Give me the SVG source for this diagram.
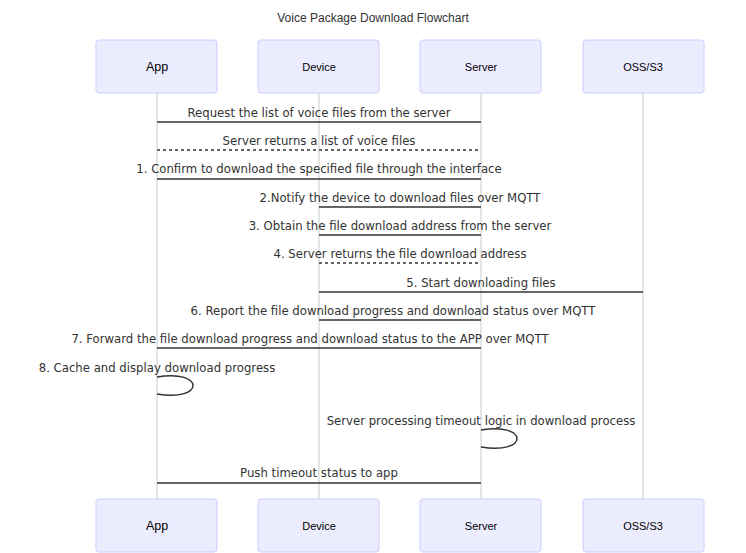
<svg xmlns="http://www.w3.org/2000/svg" width="746" height="553" viewBox="0 0 746 553">
<style>
.actor{fill:#ececff;stroke:#ccccff;stroke-width:1}
.alab{font-family:"Liberation Sans",Arial,sans-serif;font-size:11px;fill:#000;text-anchor:middle;dominant-baseline:central}
.life{stroke:#cccccc;stroke-width:1}
.msg{stroke:#333;stroke-width:1.5;fill:none}
.dash{stroke-dasharray:3,3}
.mt{font-family:"DejaVu Sans",Verdana,sans-serif;font-size:11.7px;fill:#333;text-anchor:middle;dominant-baseline:central}
.title{font-family:"Liberation Sans",Arial,sans-serif;font-size:12px;fill:#333;text-anchor:middle;dominant-baseline:central}
</style>
<rect width="746" height="553" fill="#fff"/>
<text class="title" x="373" y="18">Voice Package Download Flowchart</text>
<g id="lifelines">
<line class="life" x1="157" y1="93" x2="157" y2="499"/>
<line class="life" x1="319" y1="93" x2="319" y2="499"/>
<line class="life" x1="481" y1="93" x2="481" y2="499"/>
<line class="life" x1="643" y1="93" x2="643" y2="499"/>
</g>
<g id="app"><rect class="actor" x="96" y="40" width="121" height="53" rx="3"/><text class="alab" x="157" y="67" style="font-size:12.5px">App</text></g>
<g id="device"><rect class="actor" x="258" y="40" width="121" height="53" rx="3"/><text class="alab" x="319" y="67">Device</text></g>
<g id="server"><rect class="actor" x="420" y="40" width="121" height="53" rx="3"/><text class="alab" x="481" y="67">Server</text></g>
<g id="oss"><rect class="actor" x="583" y="40" width="121" height="53" rx="3"/><text class="alab" x="643" y="67">OSS/S3</text></g>
<g id="app-bottom"><rect class="actor" x="96" y="499" width="121" height="53" rx="3"/><text class="alab" x="157" y="526" style="font-size:12.5px">App</text></g>
<g id="device-bottom"><rect class="actor" x="258" y="499" width="121" height="53" rx="3"/><text class="alab" x="319" y="526">Device</text></g>
<g id="server-bottom"><rect class="actor" x="420" y="499" width="121" height="53" rx="3"/><text class="alab" x="481" y="526">Server</text></g>
<g id="oss-bottom"><rect class="actor" x="583" y="499" width="121" height="53" rx="3"/><text class="alab" x="643" y="526">OSS/S3</text></g>
<g id="connectors">
<line class="msg" x1="157" y1="122" x2="481" y2="122"/>
<line class="msg dash" x1="157" y1="150" x2="481" y2="150"/>
<line class="msg" x1="157" y1="179" x2="481" y2="179"/>
<line class="msg" x1="319" y1="207" x2="481" y2="207"/>
<line class="msg" x1="319" y1="235" x2="481" y2="235"/>
<line class="msg dash" x1="319" y1="263" x2="481" y2="263"/>
<line class="msg" x1="319" y1="292" x2="643" y2="292"/>
<line class="msg" x1="319" y1="320" x2="481" y2="320"/>
<line class="msg" x1="157" y1="348" x2="481" y2="348"/>
<path class="msg" d="M157,377 C205,369 205,402 157,394"/>
<path class="msg" d="M481,430 C529,422 529,455 481,447"/>
<line class="msg" x1="157" y1="483" x2="481" y2="483"/>
</g>
<g id="labels">
<text class="mt" x="319" y="113">Request the list of voice files from the server</text>
<text class="mt" x="319" y="141">Server returns a list of voice files</text>
<text class="mt" x="319" y="169">1. Confirm to download the specified file through the interface</text>
<text class="mt" x="400" y="198">2.Notify the device to download files over MQTT</text>
<text class="mt" x="400" y="226">3. Obtain the file download address from the server</text>
<text class="mt" x="400" y="254">4. Server returns the file download address</text>
<text class="mt" x="481" y="283">5. Start downloading files</text>
<text class="mt" x="393" y="311">6. Report the file download progress and download status over MQTT</text>
<text class="mt" x="310" y="339">7. Forward the file download progress and download status to the APP over MQTT</text>
<text class="mt" x="157" y="368">8. Cache and display download progress</text>
<text class="mt" x="481" y="421">Server processing timeout logic in download process</text>
<text class="mt" x="319" y="473">Push timeout status to app</text>
</g>
</svg>
